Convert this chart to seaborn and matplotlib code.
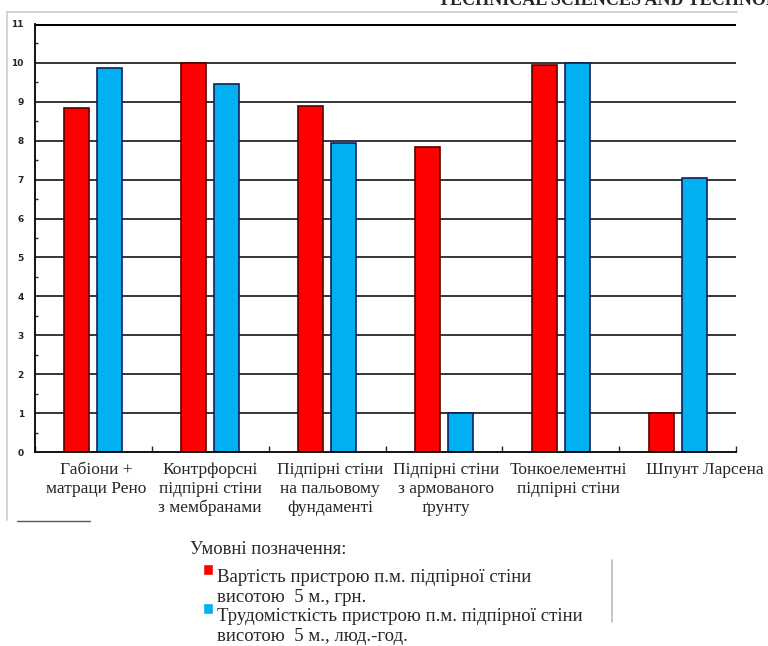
import numpy as np
import pandas as pd
import seaborn as sns
import matplotlib.pyplot as plt
import matplotlib.transforms as mtransforms
from matplotlib.lines import Line2D
from matplotlib.ticker import MultipleLocator

# Categories (x axis) and the two series
categories = [
    "Габіони +\nматраци Рено",
    "Контрфорсні\nпідпірні стіни\nз мембранами",
    "Підпірні стіни\nна пальовому\nфундаменті",
    "Підпірні стіни\nз армованого\nґрунту",
    "Тонкоелементні\nпідпірні стіни",
    "Шпунт Ларсена",
]
series_names = [
    "Вартість пристрою п.м. підпірної стіни\nвисотою  5 м., грн.",
    "Трудомісткість пристрою п.м. підпірної стіни\nвисотою  5 м., люд.-год.",
]
cost_values = [8.85, 10.0, 8.9, 7.85, 9.95, 1.0]
labour_values = [9.87, 9.45, 7.95, 1.0, 10.0, 7.05]
y_ticks = list(range(0, 12))

df = pd.DataFrame({
    "category": categories * 2,
    "series": [series_names[0]] * 6 + [series_names[1]] * 6,
    "value": cost_values + labour_values,
})

sns.set_style("white")
plt.rcParams["font.family"] = ["Liberation Serif", "DejaVu Serif"]

fig = plt.figure(figsize=(7.68, 6.46), dpi=100)
ax = fig.add_axes([35 / 768, 1 - 452 / 646, 701 / 768, 428 / 646])

# grid lines first so bars sit on top
for t in y_ticks[1:]:
    ax.axhline(t, color="black", lw=2.2 if t == 11 else 1.1, zorder=0)

sns.barplot(data=df, x="category", y="value", hue="series",
            palette=["#ff0000", "#00b0f0"], saturation=1, width=0.565, gap=0.24,
            order=categories, hue_order=series_names, ax=ax, zorder=2,
            legend=True)

edge_cols = ["#5a0000", "#10205a"]
for cont, ec in zip(ax.containers, edge_cols):
    for bar in cont:
        bar.set_edgecolor(ec)
        bar.set_linewidth(1.2)

ax.set_xlim(-0.5, 5.5)
ax.set_ylim(0, 11)
ax.set_yticks(y_ticks)
ax.yaxis.set_minor_locator(MultipleLocator(0.5))
ax.set_xticks(np.arange(-0.5, 6, 1), minor=True)
ax.set_xlabel("")
ax.set_ylabel("")

ax.tick_params(axis="y", which="major", length=0, pad=8, labelsize=6.5)
ax.tick_params(axis="y", which="minor", length=2, direction="in", left=True, width=1)
ax.tick_params(axis="x", which="major", length=0, pad=7, labelsize=12.5)
ax.tick_params(axis="x", which="minor", length=4, direction="in", bottom=True, width=1)
for lab in ax.get_yticklabels():
    lab.set_fontfamily("DejaVu Sans")
    lab.set_fontweight("bold")
ax.set_xticklabels(categories, linespacing=1.25)
# the last two labels sit a little to the right in the original
shifts = [3, 0, 3, 2, 8, 27]
for lab, dx in zip(ax.get_xticklabels(), shifts):
    lab.set_transform(lab.get_transform() +
                      mtransforms.ScaledTranslation(dx / 100, 0, fig.dpi_scale_trans))

for s in ["top", "right"]:
    ax.spines[s].set_visible(False)
for s in ["left", "bottom"]:
    ax.spines[s].set_color("black")
    ax.spines[s].set_linewidth(1.3)

# legend below the chart
handles, labels = ax.get_legend_handles_labels()
leg = ax.legend(handles, labels, loc="upper left",
                bbox_to_anchor=(203 / 768, 1 - 569 / 646), bbox_transform=fig.transFigure,
                frameon=False, fontsize=13.5, handlelength=0.55, handleheight=0.55,
                handletextpad=0.2, labelspacing=0.1, borderpad=0, borderaxespad=0)
for txt in leg.get_texts():
    txt.set_linespacing(1.25)
# lift the colour squares to the first line of each entry
for h in leg.legend_handles:
    h.set_y(h.get_y() + 13)
fig.text(190 / 768, 1 - 550 / 646, "Умовні позначення:", fontsize=13.3,
         va="center", ha="left")

# scan frame lines and header fragment
fig.add_artist(Line2D([7 / 768, 737 / 768], [1 - 12 / 646] * 2, color="#cccccc", lw=1.2))
fig.add_artist(Line2D([7 / 768] * 2, [1 - 12 / 646, 1 - 520 / 646], color="#cccccc", lw=1.2))
fig.add_artist(Line2D([17 / 768, 90 / 768], [1 - 521 / 646] * 2, color="#555555", lw=1.0))
fig.add_artist(Line2D([612 / 768] * 2, [1 - 560 / 646, 1 - 622 / 646], color="#bbbbbb", lw=1.2))
fig.text(438 / 768, 1 - 5 / 646, "TECHNICAL SCIENCES AND TECHNOLOGIES", fontsize=13,
         fontweight="bold", va="baseline", ha="left")

fig.savefig("out.png", dpi=100)
